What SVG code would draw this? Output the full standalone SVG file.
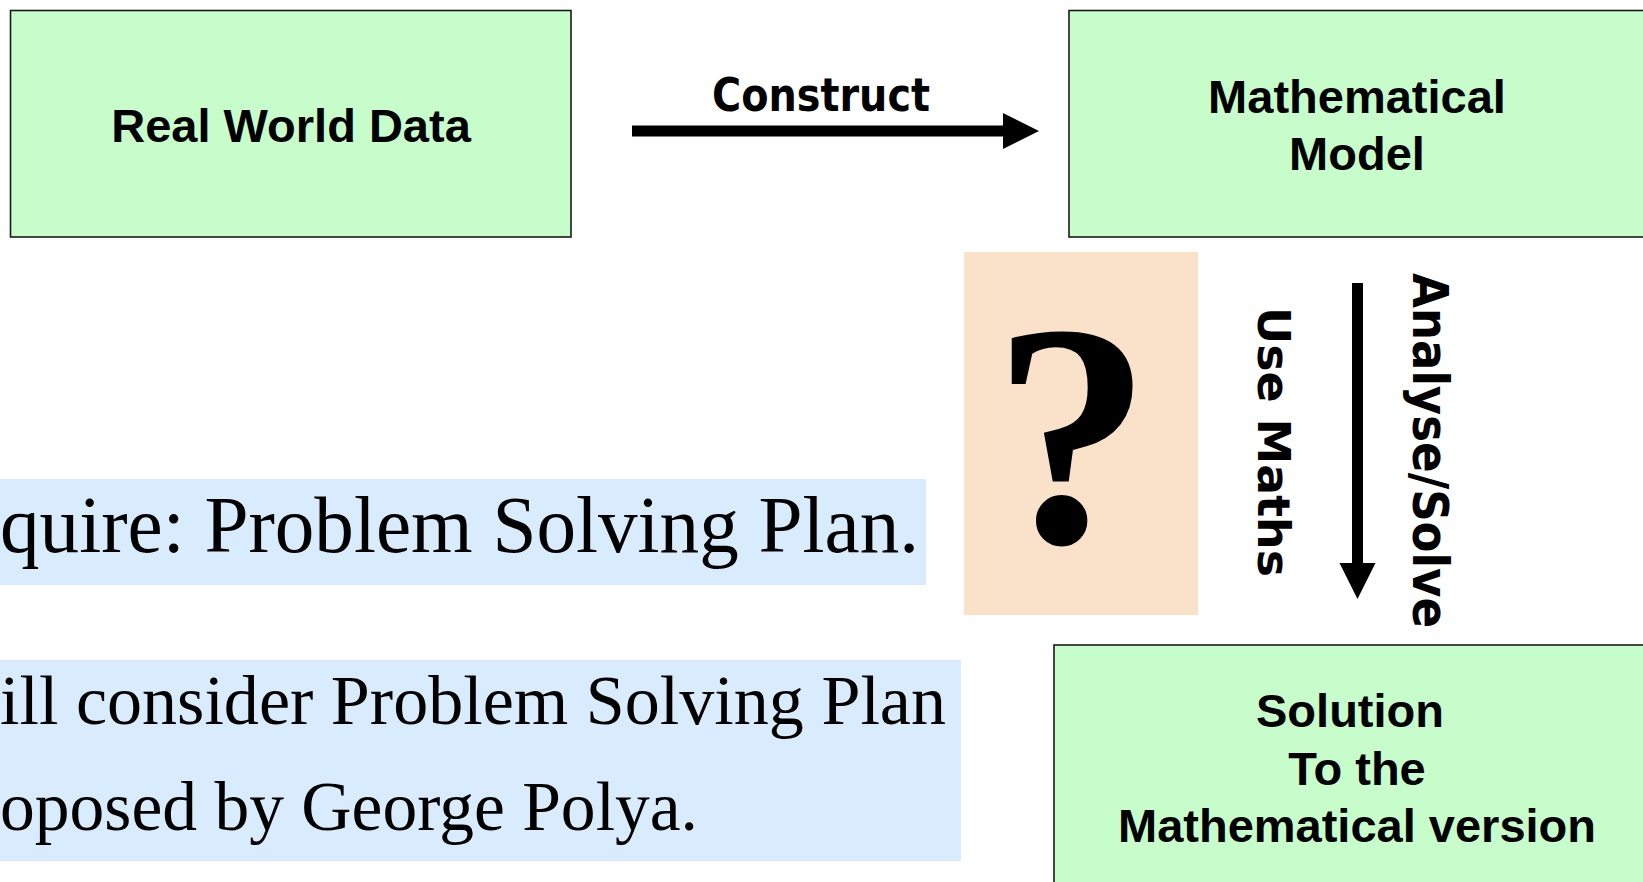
<svg xmlns="http://www.w3.org/2000/svg" width="1643" height="882" viewBox="0 0 1643 882">
<defs>
<style>
.box{fill:#c6fdca;stroke:#1a1a1a;stroke-width:1.6}
.bt{font-family:"Liberation Sans",Arial,sans-serif;font-weight:bold;font-size:47px;fill:#000;text-anchor:middle}
.hand{font-family:"DejaVu Sans",sans-serif;font-weight:bold;fill:#000}
.serif{font-family:"Liberation Serif","Times New Roman",serif;fill:#000}
.hl{fill:#d8ecfd}
.conn{stroke:#000;stroke-width:11;fill:none;marker-end:url(#ah)}
</style>
<marker id="ah" markerUnits="userSpaceOnUse" markerWidth="37" markerHeight="37" refX="1" refY="18" orient="auto">
<path d="M0,0 L36,18 L0,36 z" fill="#000"/>
</marker>
</defs>
<rect width="1643" height="882" fill="#fff"/>

<g id="real-world-data">
<rect class="box" x="10.5" y="10.5" width="560.5" height="226.5"/>
<text class="bt" x="291" y="142">Real World Data</text>
</g>

<g id="mathematical-model">
<rect class="box" x="1069" y="10.5" width="600" height="226.5"/>
<text class="bt" x="1357" y="113">Mathematical</text>
<text class="bt" x="1357" y="170">Model</text>
</g>

<g id="solution">
<rect class="box" x="1054" y="645" width="620" height="260"/>
<text class="bt" x="1350" y="727">Solution</text>
<text class="bt" x="1357" y="785">To the</text>
<text class="bt" x="1357" y="842">Mathematical version</text>
</g>

<g id="question">
<rect x="964" y="252" width="234" height="363" fill="#f9e2c9"/>
<text class="serif" x="1072" y="542" font-size="318" font-weight="bold" text-anchor="middle">?</text>
</g>

<g id="connectors">
<line class="conn" x1="632" y1="131" x2="1004" y2="131"/>
<text class="hand" x="712" y="111" font-size="46" textLength="218" lengthAdjust="spacingAndGlyphs">Construct</text>
<line class="conn" x1="1357.5" y1="283" x2="1357.5" y2="564"/>
<text class="hand" transform="translate(1258,307) rotate(90)" font-size="44" textLength="270" lengthAdjust="spacingAndGlyphs">Use Maths</text>
<text class="hand" transform="translate(1413,273) rotate(90)" font-size="50" textLength="355" lengthAdjust="spacingAndGlyphs">Analyse/Solve</text>
</g>

<g id="require-text">
<rect class="hl" x="0" y="479" width="926" height="106"/>
<text class="serif" x="0" y="552" font-size="81" textLength="919" lengthAdjust="spacingAndGlyphs">quire: Problem Solving Plan.</text>
</g>

<g id="polya-text">
<rect class="hl" x="0" y="660" width="961" height="201"/>
<text class="serif" x="0" y="724" font-size="70" textLength="946" lengthAdjust="spacingAndGlyphs">ill consider Problem Solving Plan</text>
<text class="serif" x="0" y="830" font-size="70" textLength="698" lengthAdjust="spacingAndGlyphs">oposed by George Polya.</text>
</g>
</svg>
